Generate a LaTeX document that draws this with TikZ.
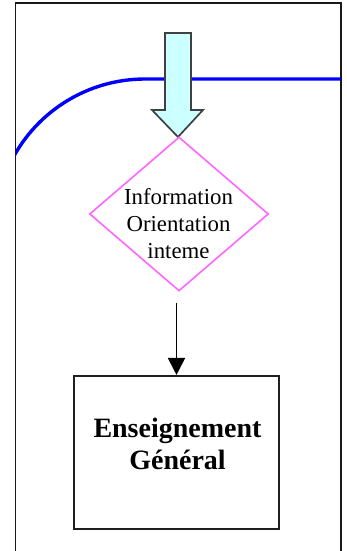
\documentclass[tikz,border=0pt]{standalone}
\usepackage{fontspec}
\setmainfont{Liberation Serif}
\usetikzlibrary{shapes.geometric,arrows.meta}
\definecolor{flowblue}{HTML}{0000FF}
\definecolor{diamondpink}{HTML}{FF66FF}
\definecolor{arrowfill}{HTML}{CCFFFF}
\definecolor{arrowedge}{HTML}{404040}
\tikzset{
  framelines/.style={line width=1.7pt, draw=black!90},
  flowline/.style={line width=3.4pt, draw=flowblue},
  blockarrow/.style={line width=1.7pt, draw=arrowedge, fill=arrowfill, line join=miter},
  decision/.style={diamond, draw=diamondpink, line width=1.6pt, minimum width=179pt,
    minimum height=154pt, inner sep=0pt},
  decisiontext/.style={align=center, font=\fontsize{22.8}{27}\selectfont, inner sep=0pt},
  stepbox/.style={rectangle, draw=black!88, line width=2.1pt, minimum width=205pt,
    minimum height=153pt, inner sep=0pt},
  steptext/.style={align=center, font=\fontsize{28}{32}\bfseries\selectfont, inner sep=0pt},
  flowarrow/.style={line width=1.8pt, -{Triangle[length=17pt,width=17pt]}}
}
\begin{document}
\begin{tikzpicture}[x=1pt,y=1pt]
  \useasboundingbox (0,0) rectangle (347,551);

  % outer frame, open at the bottom
  \draw[framelines] (15.5,0) -- (15.5,548) -- (341,548) -- (341,0);

  % blue flow line with its rounded corner, clipped to the frame
  \begin{scope}
    \clip (15.5,0) rectangle (341,548);
    \draw[flowline] (345,472) -- (145,472) arc[start angle=90, end angle=155, radius=150];
  \end{scope}

  % incoming block arrow
  \draw[blockarrow] (165,518) -- (191,518) -- (191,441) -- (203,441) -- (178,414)
    -- (152,441) -- (165,441) -- cycle;

  % decision
  \node[decision] (d) at (179,337) {};
  \node[decisiontext] (dt) at (178.5,327) {Information\\Orientation\\inteme};

  % step box
  \node[stepbox] (b) at (176.5,98.5) {};
  \node[steptext] (bt) at (177.5,107) {Enseignement\\Général};

  % connector
  \draw[flowarrow, shorten <=11pt] (d.south -| b.north) -- (b.north);
\end{tikzpicture}
\end{document}
